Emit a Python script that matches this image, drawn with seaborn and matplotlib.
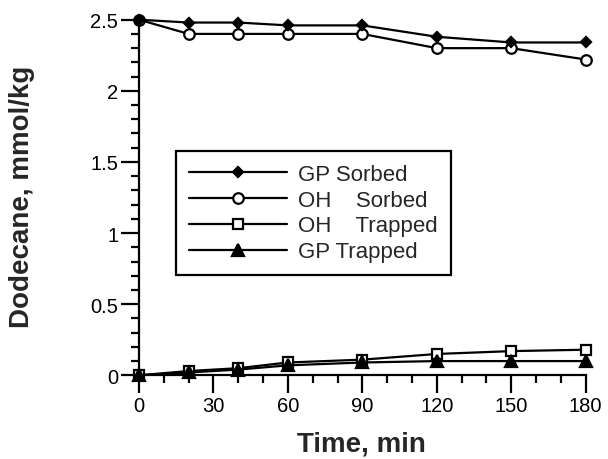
import matplotlib
matplotlib.use("Agg")
import matplotlib.pyplot as plt
from matplotlib.patches import Rectangle
from matplotlib.ticker import MultipleLocator
import seaborn as sns
import pandas as pd

# ---- data ----
time_min = [0, 20, 40, 60, 90, 120, 150, 180]
gp_sorbed = [2.50, 2.48, 2.48, 2.46, 2.46, 2.38, 2.34, 2.34]
oh_sorbed = [2.50, 2.40, 2.40, 2.40, 2.40, 2.30, 2.30, 2.22]
oh_trapped = [0.00, 0.03, 0.05, 0.09, 0.11, 0.15, 0.17, 0.18]
gp_trapped = [0.00, 0.02, 0.04, 0.07, 0.09, 0.10, 0.10, 0.10]
labels = ["GP Sorbed", "OH    Sorbed", "OH    Trapped", "GP Trapped"]
xticks = [0, 30, 60, 90, 120, 150, 180]
yticks = [0, 0.5, 1, 1.5, 2, 2.5]
yticklabels = ["0", "0.5", "1", "1.5", "2", "2.5"]

sns.set_style("ticks")
plt.rcParams["font.family"] = ["Liberation Sans", "DejaVu Sans"]

W, H = 608, 460
fig = plt.figure(figsize=(W / 100, H / 100), dpi=100)
ax_l, ax_r, ax_t, ax_b = 139, 585.7, 20.7, 376.3
ax = fig.add_axes([ax_l / W, (H - ax_b) / H, (ax_r - ax_l) / W, (ax_b - ax_t) / H])

styles = {
    "GP Sorbed": dict(marker="D", ms=5.6, mfc="black", mec="black"),
    "OH    Sorbed": dict(marker="o", ms=7.6, mfc="white", mec="black"),
    "OH    Trapped": dict(marker="s", ms=7.4, mfc="white", mec="black"),
    "GP Trapped": dict(marker="^", ms=8.0, mfc="black", mec="black"),
}
series = {
    "GP Sorbed": gp_sorbed,
    "OH    Sorbed": oh_sorbed,
    "OH    Trapped": oh_trapped,
    "GP Trapped": gp_trapped,
}
draw_order = ["OH    Sorbed", "GP Sorbed", "OH    Trapped", "GP Trapped"]
handles = {}
for i, name in enumerate(draw_order):
    df = pd.DataFrame({"t": time_min, "v": series[name]})
    sns.lineplot(data=df, x="t", y="v", ax=ax, color="black", lw=1.6,
                 mew=1.6, clip_on=False, zorder=5 + i, label=name,
                 **styles[name])
    handles[name] = ax.get_lines()[-1]

ax.set_xlim(0, 180)
ax.set_ylim(0, 2.5)
ax.set_xticks(xticks)
ax.set_yticks(yticks)
ax.set_yticklabels(yticklabels)
ax.xaxis.set_minor_locator(MultipleLocator(10))
ax.yaxis.set_minor_locator(MultipleLocator(0.1))
for s in ["top", "right"]:
    ax.spines[s].set_visible(False)
for s in ["left", "bottom"]:
    ax.spines[s].set_linewidth(1.6)
    ax.spines[s].set_color("black")
ax.tick_params(which="major", direction="out", length=13, width=1.6,
               labelsize=14.5, pad=2, colors="black")
ax.tick_params(which="minor", direction="out", length=6, width=1.6, colors="black")

ax.set_xlabel("Time, min", fontsize=20, fontweight="bold")
ax.set_ylabel("Dodecane, mmol/kg", fontsize=20, fontweight="bold")
ax.xaxis.set_label_coords(0.497, -0.155)
ax.yaxis.set_label_coords(-0.232, 0.505)

# legend
leg_order = ["GP Sorbed", "OH    Sorbed", "OH    Trapped", "GP Trapped"]
bx0, bx1, by0, by1 = 176, 451, 152, 276
leg = ax.legend([handles[n] for n in leg_order], leg_order, frameon=False,
                loc="center", bbox_to_anchor=((bx0 + bx1) / 2 / W, 1 - (by0 + by1) / 2 / H),
                bbox_transform=fig.transFigure, fontsize=16, handlelength=4.4,
                handletextpad=0.5, labelspacing=0.22, borderpad=0, borderaxespad=0)
fig.patches.append(Rectangle((bx0 / W, 1 - by1 / H), (bx1 - bx0) / W, (by1 - by0) / H,
                             transform=fig.transFigure, fill=False, ec="black", lw=1.6))

fig.savefig("out.png", dpi=100)
